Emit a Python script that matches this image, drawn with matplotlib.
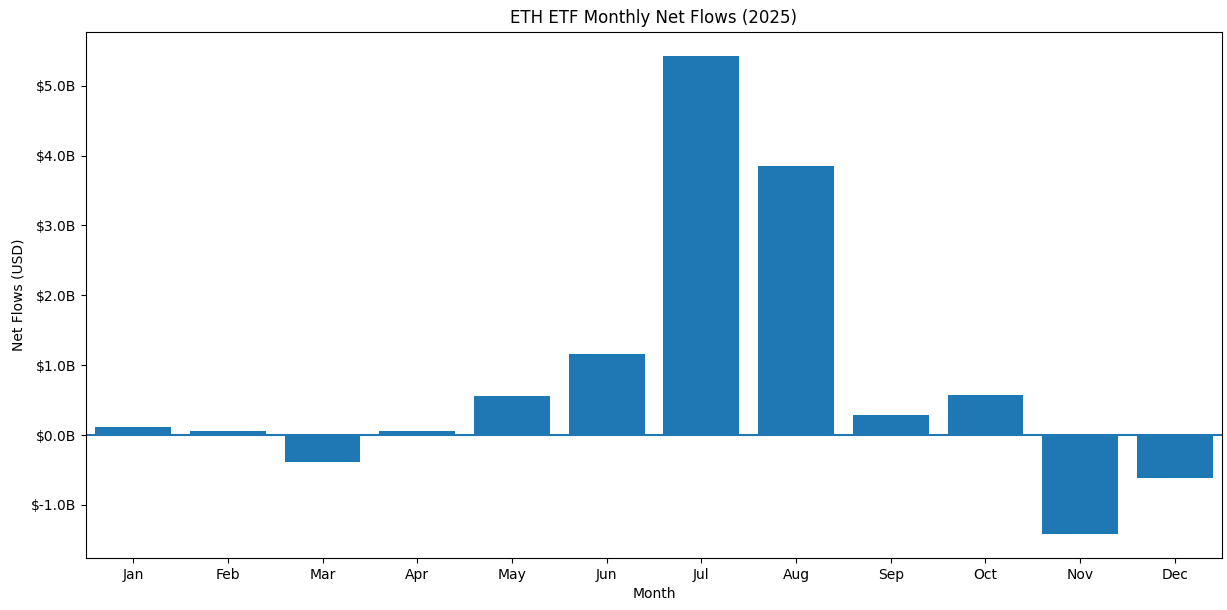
import matplotlib
matplotlib.use("Agg")
import matplotlib.pyplot as plt
from matplotlib.ticker import FuncFormatter

months = ["Jan", "Feb", "Mar", "Apr", "May", "Jun",
          "Jul", "Aug", "Sep", "Oct", "Nov", "Dec"]
# net flows in billions of USD
flows_b = [0.11, 0.06, -0.38, 0.06, 0.56, 1.16,
           5.43, 3.85, 0.29, 0.57, -1.42, -0.62]
flows = [v * 1e9 for v in flows_b]

fig, ax = plt.subplots(figsize=(12.27, 6.1), dpi=100)
fig.subplots_adjust(left=0.070, right=0.996, top=0.948, bottom=0.085)

ax.bar(range(len(months)), flows, width=0.8, color="#1f77b4")
ax.axhline(0, color="#1f77b4", linewidth=1.5)

ax.set_xticks(range(len(months)))
ax.set_xticklabels(months)
ax.set_xlim(-0.5, len(months) - 0.5)
ax.yaxis.set_major_formatter(FuncFormatter(lambda v, p: f"${v / 1e9:.1f}B"))

ax.set_title("ETH ETF Monthly Net Flows (2025)")
ax.set_xlabel("Month")
ax.set_ylabel("Net Flows (USD)")

fig.savefig("out.png")
